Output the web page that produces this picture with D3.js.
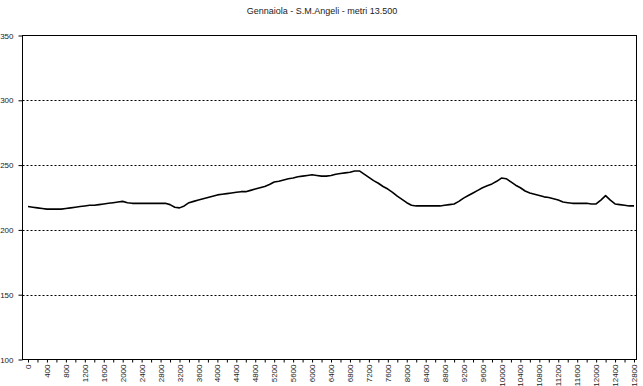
<!DOCTYPE html>
<html>
<head>
<meta charset="utf-8">
<script src="https://cdn.jsdelivr.net/npm/d3@7"></script>
<style>
  body { margin: 0; background: #fff; }
  svg { display: block; font-family: "Liberation Sans", Arial, sans-serif; }
</style>
</head>
<body>
<svg id="chart" width="643" height="386"></svg>
<script>
const title = "Gennaiola - S.M.Angeli - metri 13.500"

// distance along the route, every 100 m
const distances = d3.range(0, 12900, 100)

// altitude (m)
const altitudes = [
  218, 217.5, 217, 216.5, 216, 216, 216, 216, 216.5, 217,
  217.5, 218, 218.5, 219, 219, 219.5, 220, 220.5, 221, 221.5,
  222, 221, 220.5, 220.5, 220.5, 220.5, 220.5, 220.5, 220.5, 220.5,
  219.5, 217.5, 217, 218.5, 221, 222, 223, 224, 225, 226,
  227, 227.5, 228, 228.5, 229, 229.5, 229.5, 230.5, 231.5, 232.5,
  233.5, 235, 237, 237.5, 238.5, 239.5, 240, 241, 241.5, 242,
  242.5, 242, 241.5, 241.5, 242, 243, 243.5, 244, 244.5, 245.5,
  245.5, 243, 240.5, 238, 236, 233.5, 231.5, 229, 226, 223.5,
  221, 219, 218.5, 218.5, 218.5, 218.5, 218.5, 218.5, 219, 219.5,
  220, 222, 224.5, 226.5, 228.5, 230.5, 232.5, 234, 235.5, 237.5,
  240, 239.5, 237, 234.5, 232.5, 230, 228.5, 227.5, 226.5, 225.5,
  225, 224, 223, 221.5, 221, 220.5, 220.5, 220.5, 220.5, 220,
  220, 223, 226.5, 223, 220, 219.5, 219, 218.5, 218.5
]

const y_ticks = [100, 150, 200, 250, 300, 350]

const plot = { left: 22.5, right: 636.5, top: 35.5, bottom: 359.5 }

const svg = d3.select("#chart")

const x = d3.scalePoint()
  .domain(distances)
  .range([28, 634])

const y = d3.scaleLinear()
  .domain([100, 350])
  .range([plot.bottom, plot.top])

// title
svg.append("text")
  .attr("x", 322)
  .attr("y", 14)
  .attr("text-anchor", "middle")
  .attr("font-size", 9)
  .attr("fill", "#222")
  .text(title)

// dotted gridlines
svg.append("g")
  .selectAll("line")
  .data(y_ticks.filter(d => d > 100 && d < 350))
  .enter()
  .append("line")
  .attr("x1", plot.left)
  .attr("x2", plot.right)
  .attr("y1", d => Math.round(y(d)) + 0.5)
  .attr("y2", d => Math.round(y(d)) + 0.5)
  .attr("stroke", "#000")
  .attr("stroke-width", 1)
  .attr("stroke-dasharray", "2,2")

// y axis
const y_axis = svg.append("g")
  .attr("transform", `translate(${plot.left},0)`)
  .call(d3.axisLeft(y).tickValues(y_ticks).tickSize(4).tickPadding(5))
y_axis.select(".domain").remove()
y_axis.selectAll("line").attr("stroke", "#000")
y_axis.selectAll("text")
  .attr("font-size", 8)
  .attr("fill", "#222")
  .attr("font-family", "Liberation Sans, Arial, sans-serif")

// x axis
const x_axis = svg.append("g")
  .attr("transform", `translate(0,${plot.bottom})`)
  .call(d3.axisBottom(x)
    .tickValues(distances.filter((d, i) => i % 2 == 0))
    .tickSize(3)
    .tickFormat(d => d % 400 == 0 ? d : ""))
x_axis.select(".domain").remove()
x_axis.selectAll("line").attr("stroke", "#000")
x_axis.selectAll("text")
  .attr("font-size", 8)
  .attr("fill", "#222")
  .attr("font-family", "Liberation Sans, Arial, sans-serif")
  .attr("text-anchor", "end")
  .attr("transform", "rotate(-90)")
  .attr("x", -5)
  .attr("y", 0)
  .attr("dy", "0.32em")

// plot frame
svg.append("rect")
  .attr("x", plot.left)
  .attr("y", plot.top)
  .attr("width", plot.right - plot.left)
  .attr("height", plot.bottom - plot.top)
  .attr("fill", "none")
  .attr("stroke", "#000")
  .attr("stroke-width", 1)

// altitude profile
const line = d3.line()
  .x((d, i) => x(distances[i]))
  .y(d => y(d))

svg.append("path")
  .datum(altitudes)
  .attr("d", line)
  .attr("fill", "none")
  .attr("stroke", "#000")
  .attr("stroke-width", 1.6)
  .attr("stroke-linejoin", "round")
</script>
</body>
</html>
